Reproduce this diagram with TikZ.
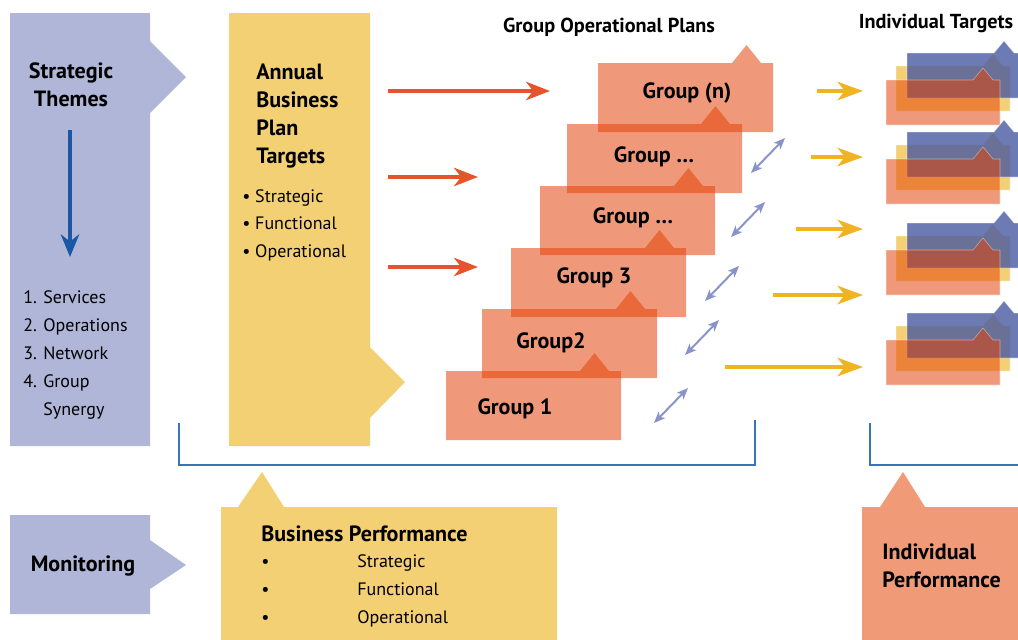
\documentclass[tikz,border=0pt]{standalone}
\usepackage{fontspec}
\setmainfont{PT Sans}
\usetikzlibrary{positioning}
\usetikzlibrary{arrows.meta}
\definecolor{lavender}{HTML}{AFB6D8}
\definecolor{sand}{HTML}{F4D074}
\definecolor{salmon}{HTML}{F09A78}
\definecolor{burnt}{RGB}{227,63,4}
\definecolor{slate}{RGB}{69,87,160}
\definecolor{redline}{HTML}{E4552D}
\definecolor{goldline}{HTML}{F0B423}
\definecolor{deepblue}{HTML}{1B57A3}
\definecolor{periwinkle}{HTML}{8893CA}
\definecolor{bracketblue}{HTML}{3A74B4}
\tikzstyle{heading} = [font=\fontsize{15.7}{19.9}\selectfont\bfseries, inner sep=0pt, align=left]
\tikzstyle{listtext} = [font=\fontsize{12.8}{19.9}\selectfont, inner sep=0pt, align=left]
\tikzstyle{plantitle} = [font=\fontsize{14.4}{16}\selectfont\bfseries, inner sep=0pt]
\tikzstyle{plan} = [fill=burnt, fill opacity=0.53]
\tikzstyle{target} = [draw=white, draw opacity=0.45, line width=0.4pt]
\tikzstyle{feedarrow} = [redline, line width=2.8pt, -{Stealth[length=17pt, width=13pt, inset=5pt]}]
\tikzstyle{goalarrow} = [goldline, line width=3pt, -{Stealth[length=18pt, width=13pt, inset=5pt]}]
\tikzstyle{linkarrow} = [periwinkle, line width=1.4pt, {Stealth[length=8pt, width=6.5pt, inset=2pt]}-{Stealth[length=8pt, width=6.5pt, inset=2pt]}]
% outline of a group plan card, tab on the top edge
\newcommand{\planshape}[2]{(#1,#2) -- ++(134,0) -- ++(14.5,-18) -- ++(14.5,18) -- ++(12,0) -- ++(0,69) -- ++(-175,0) -- cycle}
% outline of a small individual target card
\newcommand{\targetshape}[2]{(#1,#2) -- ++(87,0) -- ++(10,-12) -- ++(10,12) -- ++(7,0) -- ++(0,45) -- ++(-114,0) -- cycle}

\begin{document}
\begin{tikzpicture}[x=0.025cm, y=-0.025cm]
    \clip (0,0) rectangle (1018,639);

    % left column panels
    \fill[lavender] (10,13) -- (150,13) -- (150,41) -- (186,77) -- (150,113) -- (150,446) -- (10,446) -- cycle;
    \fill[sand] (229,13) -- (370,13) -- (370,347) -- (405,382) -- (370,418) -- (370,446) -- (229,446) -- cycle;
    \fill[lavender] (10,515) -- (150,515) -- (150,540) -- (186,565) -- (150,589) -- (150,614) -- (10,614) -- cycle;
    \fill[sand] (221,507) -- (238,507) -- (262,472) -- (284,507) -- (557,507) -- (557,645) -- (221,645) -- cycle;
    \fill[salmon] (862,507) -- (880,507) -- (903,472) -- (925,507) -- (1030,507) -- (1030,645) -- (862,645) -- cycle;

    \node (themes) [heading, align=center] at (71,85) {Strategic\\Themes};
    \coordinate (downtop) at (70,130);
    \coordinate (downend) at (70,257);
    \draw[deepblue, line width=2.8pt, -{Stealth[length=16pt, width=13pt, inset=5pt]}] (downtop)--(downend);
    \node (themelist) [listtext, anchor=base west] at (23,415) {1. Services\\2. Operations\\3. Network\\4. Group\\\hphantom{4. }Synergy};

    \node (annual) [heading, anchor=base west] at (256,163) {Annual\\Business\\Plan\\Targets};
    \node (annuallist) [listtext, font=\fontsize{12.8}{19.4}\selectfont, anchor=base west] at (242,257) {\textbullet\ Strategic\\\textbullet\ Functional\\\textbullet\ Operational};

    \node (monitor) [heading] at (83,566) {Monitoring};
    \node (bizperf) [heading, anchor=base west] at (261,541) {Business Performance};
    \node (bizdots) [listtext, font=\fontsize{12.8}{19.6}\selectfont, anchor=base west] at (261,623) {\textbullet\\\textbullet\\\textbullet};
    \node (bizlist) [listtext, font=\fontsize{12.8}{19.6}\selectfont, anchor=base west] at (357,623) {Strategic\\Functional\\Operational};
    \node (indperf) [heading, anchor=base west] at (882,587) {Individual\\Performance};

    % group operational plans
    \node (plans) [plantitle] at (609,27) {Group Operational Plans};
    \foreach \x/\y in {446/371, 482/309, 511/248, 540/186, 567/124, 598/63}
        \fill[plan] \planshape{\x}{\y};
    \node (g1) [heading] at (515,409) {Group 1};
    \node (g2) [heading] at (551,343) {Group2};
    \node (g3) [heading] at (594,278) {Group 3};
    \node (g4) [heading] at (633,218) {Group \dots};
    \node (g5) [heading] at (654,157) {Group \dots};
    \node (gn) [heading] at (687,93) {Group (n)};

    % targets handed down to the groups
    \coordinate (f1s) at (388,91);  \coordinate (f1e) at (550,91);
    \coordinate (f2s) at (388,177); \coordinate (f2e) at (478,177);
    \coordinate (f3s) at (388,267); \coordinate (f3e) at (478,267);
    \draw[feedarrow] (f1s)--(f1e);
    \draw[feedarrow] (f2s)--(f2e);
    \draw[feedarrow] (f3s)--(f3e);

    % links between neighbouring groups
    \foreach \a/\b [count=\i] in {654/423, 685/355, 705/301, 731/237, 751/173} {
        \coordinate (l\i s) at (\a,\b);
        \coordinate (l\i e) at (\a+34,\b-35);
        \draw[linkarrow] (l\i s)--(l\i e);
    }

    % individual targets
    \node (indiv) [plantitle] at (936,23) {Individual Targets};
    \foreach \t in {80,159,250,340} {
        \fill[sand, target] \targetshape{896}{\t-14};
        \fill[slate, fill opacity=0.79, target] \targetshape{907}{\t-27};
        \fill[burnt, fill opacity=0.53, target] \targetshape{886}{\t};
    }
    \foreach \a/\b [count=\i] in {817/91, 811/157, 796/229, 773/295, 725/367} {
        \coordinate (t\i s) at (\a,\b);
        \coordinate (t\i e) at (863,\b);
        \draw[goalarrow] (t\i s)--(t\i e);
    }

    % brackets over the performance boxes
    \coordinate (b1) at (179,423);
    \coordinate (b2) at (755,420);
    \coordinate (b3) at (870,423);
    \draw[bracketblue, line width=0.9pt] (b1) |- (755,465) -- (b2);
    \draw[bracketblue, line width=0.9pt] (b3) |- (1030,465);
\end{tikzpicture}
\end{document}
